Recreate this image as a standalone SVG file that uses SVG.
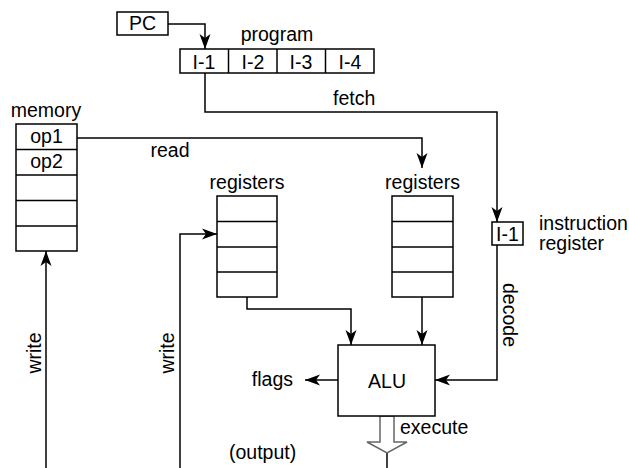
<svg xmlns="http://www.w3.org/2000/svg" width="629" height="468" viewBox="0 0 629 468">
<style>
.b{fill:#fff;stroke:#000;stroke-width:1.5}
.l{fill:none;stroke:#000;stroke-width:1.5}
.c{stroke:#000;stroke-width:1.5}
text{font-family:"Liberation Sans",Arial,sans-serif;font-size:19.5px;fill:#000}
.m{text-anchor:middle}
.e{text-anchor:end}
</style>
<defs>
<marker id="arr" markerUnits="userSpaceOnUse" markerWidth="16" markerHeight="12" refX="15" refY="6" orient="auto">
<path d="M0,0.5 L15,6 L0,11.5 L4,6 Z" fill="#000"/>
</marker>
</defs>
<rect width="629" height="468" fill="#fff"/>
<g id="connectors">
<path class="l" d="M168,24 H205 V49" marker-end="url(#arr)"/>
<path class="l" d="M205,73 V112 H497 V222" marker-end="url(#arr)"/>
<path class="l" d="M77,138 H422 V168" marker-end="url(#arr)"/>
<path class="l" d="M247,297 V309 H351 V345" marker-end="url(#arr)"/>
<path class="l" d="M422,297 V345" marker-end="url(#arr)"/>
<path class="l" d="M497,245 V380 H435" marker-end="url(#arr)"/>
<path class="l" d="M338,380 H305" marker-end="url(#arr)"/>
<path class="l" d="M46,468 V251" marker-end="url(#arr)"/>
<path class="l" d="M180,468 V234 H217" marker-end="url(#arr)" stroke="#333"/>
<path class="l" d="M387,453 V468"/>
<polygon points="380,416 394,416 394,442 407,442 387,453 367,442 380,442" fill="#fff" stroke="#666" stroke-width="1.5"/>
<text x="333" y="105">fetch</text>
<text x="170" y="157" class="m">read</text>
<text x="400" y="434">execute</text>
<text x="229" y="459">(output)</text>
<text x="293" y="386" class="e">flags</text>
<text transform="translate(503,315) rotate(90)" class="m">decode</text>
<text transform="translate(41,353) rotate(-90)" class="m">write</text>
<text transform="translate(174,353) rotate(-90)" class="m">write</text>
</g>
<g id="pc">
<rect class="b" x="117" y="12" width="51" height="23"/>
<text x="142.5" y="30" class="m">PC</text>
</g>
<g id="program">
<rect class="b" x="180" y="49" width="194" height="24"/>
<line class="c" x1="228.5" y1="49" x2="228.5" y2="73"/>
<line class="c" x1="277" y1="49" x2="277" y2="73"/>
<line class="c" x1="325.5" y1="49" x2="325.5" y2="73"/>
<text x="277" y="41" class="m">program</text>
<text x="204" y="69" class="m">I-1</text>
<text x="253" y="69" class="m">I-2</text>
<text x="301" y="69" class="m">I-3</text>
<text x="350" y="69" class="m">I-4</text>
</g>
<g id="memory">
<rect class="b" x="16" y="124" width="61" height="127"/>
<line class="c" x1="16" y1="149.5" x2="77" y2="149.5"/>
<line class="c" x1="16" y1="175" x2="77" y2="175"/>
<line class="c" x1="16" y1="200.5" x2="77" y2="200.5"/>
<line class="c" x1="16" y1="226" x2="77" y2="226"/>
<text x="46" y="117" class="m">memory</text>
<text x="46.5" y="143" class="m">op1</text>
<text x="46.5" y="168" class="m">op2</text>
</g>
<g id="registers-left">
<rect class="b" x="217" y="196" width="60" height="101"/>
<line class="c" x1="217" y1="221.5" x2="277" y2="221.5"/>
<line class="c" x1="217" y1="247" x2="277" y2="247"/>
<line class="c" x1="217" y1="272" x2="277" y2="272"/>
<text x="247" y="189" class="m">registers</text>
</g>
<g id="registers-right">
<rect class="b" x="392" y="196" width="61" height="101"/>
<line class="c" x1="392" y1="221.5" x2="453" y2="221.5"/>
<line class="c" x1="392" y1="247" x2="453" y2="247"/>
<line class="c" x1="392" y1="272" x2="453" y2="272"/>
<text x="422.5" y="189" class="m">registers</text>
</g>
<g id="instruction-register">
<rect class="b" x="492" y="222" width="31" height="23"/>
<text x="507.5" y="241" class="m">I-1</text>
<text x="539" y="229.5">instruction</text>
<text x="539" y="250">register</text>
</g>
<g id="alu">
<rect class="b" x="338" y="345" width="97" height="71"/>
<text x="387" y="388" class="m">ALU</text>
</g>
</svg>
